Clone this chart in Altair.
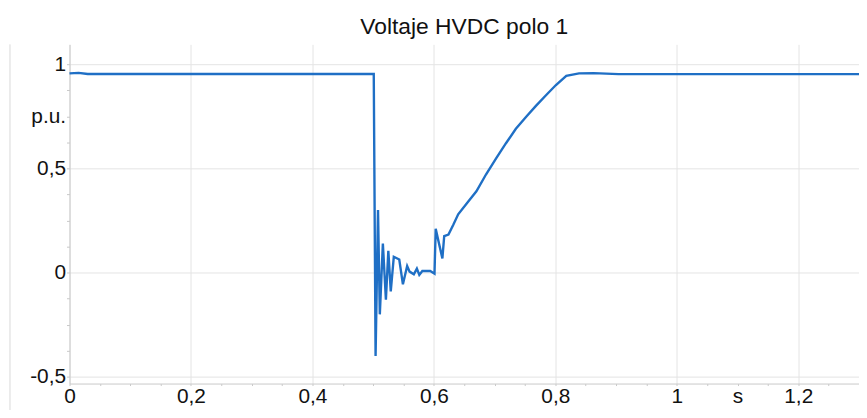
import altair as alt
import pandas as pd

# time (s) and voltage (p.u.)
time_s = [0, 0.015, 0.03, 0.1, 0.2, 0.3, 0.4, 0.501, 0.504, 0.508, 0.511, 0.516,
          0.521, 0.525, 0.529, 0.534, 0.543, 0.549, 0.556, 0.560, 0.567, 0.572,
          0.576, 0.581, 0.594, 0.601, 0.603, 0.614, 0.617, 0.624, 0.632, 0.640,
          0.655, 0.670, 0.686, 0.703, 0.719, 0.735, 0.752, 0.768, 0.785, 0.801,
          0.818, 0.839, 0.863, 0.904, 1.0, 1.1, 1.2, 1.3]
voltage_pu = [0.956, 0.958, 0.953, 0.953, 0.953, 0.953, 0.953, 0.953, -0.40, 0.30,
              -0.20, 0.14, -0.13, 0.105, -0.09, 0.076, 0.063, -0.056, 0.032, 0.005,
              -0.008, 0.019, -0.011, 0.008, 0.008, -0.005, 0.21, 0.068, 0.175, 0.183,
              0.23, 0.28, 0.335, 0.39, 0.472, 0.55, 0.622, 0.69, 0.748, 0.80, 0.852,
              0.90, 0.944, 0.956, 0.957, 0.952, 0.952, 0.952, 0.952, 0.952]

x_ticks = [round(i * 0.05, 2) for i in range(27)]
y_ticks = [round(-0.5 + i * 0.125, 3) for i in range(13)]
title_text = "Voltaje HVDC polo 1"
x_unit = "s"
y_unit = "p.u."

df = pd.DataFrame({"t": time_s, "v": voltage_pu})

FONT = "Liberation Sans"
GRID = "#e4e4e4"
AXIS = "#c8c8c8"

x_major = "abs(datum.value*5-round(datum.value*5))<0.001"
y_major = "abs(datum.value*2-round(datum.value*2))<0.001"

x_axis = alt.Axis(
    values=x_ticks,
    labelExpr=f"abs(datum.value-1.1)<0.001 ? '{x_unit}' : ({x_major} ? replace(toString(datum.value), '.', ',') : '')",
    gridColor={"condition": {"test": x_major, "value": GRID}, "value": "transparent"},
    labelOverlap=False, labelFlush=False, labelBound=False,
    labelFont=FONT, labelFontSize=21, labelColor="#111", labelPadding=0,
    tickSize=2, tickColor=AXIS, domainColor=AXIS, title=None,
)
y_axis = alt.Axis(
    values=y_ticks,
    labelExpr=f"abs(datum.value-0.75)<0.001 ? '{y_unit}' : ({y_major} ? replace(toString(datum.value), '.', ',') : '')",
    gridColor={"condition": {"test": y_major, "value": GRID}, "value": "transparent"},
    labelOverlap=False, labelFlush=False, labelBound=False,
    labelFont=FONT, labelFontSize=21, labelColor="#111", labelPadding=1,
    tickSize=3, tickColor=AXIS, domainColor=AXIS, title=None,
)

line = alt.Chart(df).mark_line(color="#1f6fc5", strokeWidth=2.4).encode(
    x=alt.X("t:Q", scale=alt.Scale(domain=[0, 1.3], nice=False, zero=False), axis=x_axis),
    y=alt.Y("v:Q", scale=alt.Scale(domain=[-0.532, 1.095], nice=False, zero=False), axis=y_axis),
)

frame = alt.Chart(pd.DataFrame({"k": [0]})).mark_rule(color="#d9d9d9", strokeWidth=1).encode(
    x=alt.value(-60), y=alt.value(0), y2=alt.value(380)
)

chart = alt.layer(frame, line).properties(
    width=796, height=342,
    title=alt.TitleParams(title_text, font=FONT, fontSize=23, fontWeight="normal",
                          color="#111", anchor="middle", offset=5),
    autosize=alt.AutoSizeParams(type="none"),
    padding={"left": 62, "top": 35, "right": 0, "bottom": 25},
).configure_view(stroke=None)

chart.save("out.html", embed_options={"renderer": "svg", "actions": False})
